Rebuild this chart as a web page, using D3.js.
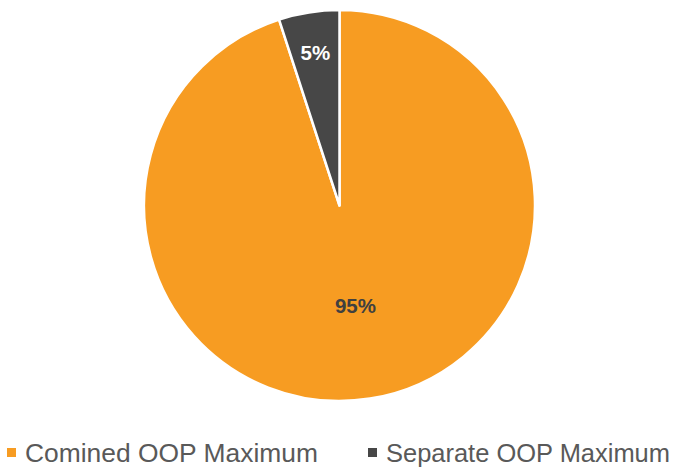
<!DOCTYPE html>
<html><head><meta charset="utf-8">
<script src="https://cdn.jsdelivr.net/npm/d3@7"></script>
<style>html,body{margin:0;padding:0;background:#fff;}svg{display:block;}</style>
</head><body>
<svg id="chart" width="682" height="468"></svg>
<script>
const categories = ["Comined OOP Maximum", "Separate OOP Maximum"];
const values = [95, 5];
const labels = ["95%", "5%"];
const colors = ["#F79C22", "#474747"];

const svg = d3.select("#chart");
const cx = 339.5, cy = 205.5, R = 195.5;
const g = svg.append("g").attr("transform", `translate(${cx},${cy})`);

const pie = d3.pie().sort(null).value(d => d);
const arcs = pie(values);
const arc = d3.arc().innerRadius(0).outerRadius(R);

g.selectAll("path").data(arcs).join("path")
  .attr("d", arc)
  .attr("fill", (d, i) => colors[i])
  .attr("stroke", "#fff")
  .attr("stroke-width", 2.5)
  .attr("stroke-linejoin", "round");

const labelR = [0.52 * R, 0.79 * R];
const labelColor = ["#404040", "#ffffff"];
g.selectAll("text.lbl").data(arcs).join("text")
  .attr("class", "lbl")
  .attr("transform", (d, i) => {
    const a = d3.arc().innerRadius(labelR[i]).outerRadius(labelR[i]);
    const c = a.centroid(d);
    return `translate(${c[0]},${c[1]})`;
  })
  .attr("text-anchor", "middle")
  .attr("dominant-baseline", "central")
  .attr("font-family", "Liberation Sans, Arial, sans-serif")
  .attr("font-weight", "bold")
  .attr("font-size", 20.5)
  .attr("fill", (d, i) => labelColor[i])
  .text((d, i) => labels[i]);

const legendX = [7, 368];
const legendW = [293, 284];
const lg = svg.append("g");
categories.forEach((c, i) => {
  lg.append("rect").attr("x", legendX[i]).attr("y", 448).attr("width", 9).attr("height", 9).attr("fill", colors[i]);
  lg.append("text").attr("x", legendX[i] + 18).attr("y", 462)
    .attr("font-family", "Liberation Sans, Arial, sans-serif")
    .attr("font-size", 25.5)
    .attr("textLength", legendW[i])
    .attr("lengthAdjust", "spacingAndGlyphs")
    .attr("fill", "#595959")
    .text(c);
});
</script>
</body></html>
